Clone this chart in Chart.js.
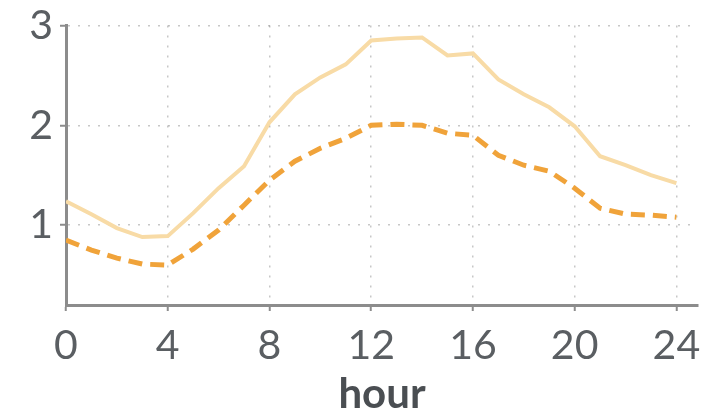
<!DOCTYPE html>
<html>
<head>
<meta charset="utf-8">
<script src="https://cdn.jsdelivr.net/npm/chart.js@4"></script>
<style>
  html, body { margin: 0; padding: 0; background: #fff; }
  #wrap { width: 726px; height: 412px; }
</style>
</head>
<body>
<div id="wrap"><canvas id="chart"></canvas></div>
<script>
const hours = [0,1,2,3,4,5,6,7,8,9,10,11,12,13,14,15,16,17,18,19,20,21,22,23,24];
const upperSeries = [1.24,1.11,0.97,0.88,0.89,1.12,1.37,1.59,2.03,2.31,2.48,2.61,2.85,2.87,2.88,2.70,2.72,2.46,2.31,2.18,1.99,1.69,1.60,1.50,1.42];
const lowerSeries = [0.85,0.75,0.67,0.61,0.60,0.76,0.95,1.20,1.45,1.64,1.77,1.87,2.00,2.01,2.00,1.92,1.90,1.70,1.60,1.54,1.37,1.17,1.11,1.10,1.08];
const yTicks = [1, 2, 3];
const xTicks = [0, 4, 8, 12, 16, 20, 24];

const toPoints = (vals) => vals.map((v, i) => ({ x: hours[i], y: v }));

const tickColor = '#5a5e62';
const gridColor = 'rgba(0,0,0,0.22)';
const axisColor = '#8c8c8c';

new Chart(document.getElementById('chart').getContext('2d'), {
  type: 'line',
  data: {
    datasets: [{
      data: toPoints(upperSeries),
      borderColor: '#f8dba6',
      borderWidth: 4,
      pointRadius: 0,
      tension: 0,
    }, {
      data: toPoints(lowerSeries),
      borderColor: '#f0a33a',
      borderWidth: 5,
      borderDash: [14, 8],
      pointRadius: 0,
      tension: 0,
    }],
  },
  options: {
    responsive: true,
    maintainAspectRatio: false,
    animation: false,
    layout: { padding: { top: 19, right: 28, left: 0, bottom: 0 } },
    plugins: { legend: { display: false }, tooltip: { enabled: false } },
    scales: {
      x: {
        type: 'linear',
        min: 0,
        max: 24.85,
        afterBuildTicks: (scale) => { scale.ticks = xTicks.map(v => ({ value: v })); },
        afterFit: (scale) => { scale.height = 107; },
        border: { color: axisColor, width: 3, dash: [2, 8] },
        grid: {
          color: gridColor,
          lineWidth: 1.5,
          tickLength: 6,
          tickColor: axisColor,
          tickWidth: 2,
          tickBorderDash: [],
        },
        ticks: {
          color: tickColor,
          padding: 12,
          font: { family: 'Lato', size: 41, lineHeight: 1.1 },
        },
        title: {
          display: true,
          text: 'hour',
          color: '#4a4e52',
          padding: { top: 0, bottom: -6 },
          font: { family: 'Lato', size: 42, weight: 'bold', lineHeight: 1.1 },
        },
      },
      y: {
        min: 0.2,
        max: 3,
        afterBuildTicks: (scale) => { scale.ticks = yTicks.map(v => ({ value: v })); },
        afterFit: (scale) => { scale.width = 66; },
        border: { color: axisColor, width: 3, dash: [2, 8] },
        grid: {
          color: gridColor,
          lineWidth: 1.5,
          tickLength: 6,
          tickColor: axisColor,
          tickWidth: 2,
          tickBorderDash: [],
        },
        ticks: {
          color: tickColor,
          padding: 7,
          font: { family: 'Lato', size: 41, lineHeight: 0.9 },
        },
      },
    },
  },
});
</script>
</body>
</html>
